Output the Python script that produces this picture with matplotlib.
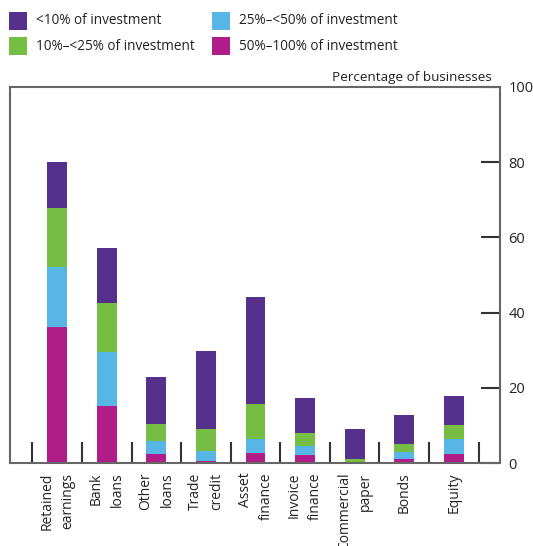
import numpy as np
import matplotlib.pyplot as plt
from matplotlib.patches import Rectangle

plt.rcParams['font.family'] = ['Open Sans', 'DejaVu Sans']

categories = ["Retained\nearnings", "Bank\nloans", "Other\nloans", "Trade\ncredit",
              "Asset\nfinance", "Invoice\nfinance", "Commercial\npaper", "Bonds", "Equity"]

# share of businesses, by share of investment financed from each source
pct_50_100 = [36.2, 15.2, 2.4, 0.5, 2.7, 2.1, 0.0, 1.1, 2.4]
pct_25_50 = [15.8, 14.4, 3.5, 2.7, 3.7, 2.5, 0.2, 1.9, 4.0]
pct_10_25 = [15.8, 13.0, 4.5, 5.8, 9.3, 3.4, 0.9, 2.1, 3.7]
pct_lt_10 = [12.2, 14.6, 12.5, 20.8, 28.4, 9.3, 7.9, 7.7, 7.7]

series = [
    ("50%\u2013100% of investment", pct_50_100, "#B01C88"),
    ("25%\u2013<50% of investment", pct_25_50, "#57B6E6"),
    ("10%\u2013<25% of investment", pct_10_25, "#76BE43"),
    ("<10% of investment", pct_lt_10, "#55308D"),
]

W, H = 533, 546
fig = plt.figure(figsize=(W / 100, H / 100), dpi=100)
ax = fig.add_axes([0.019, 0.152, 0.919, 0.689])

x = np.arange(len(categories))
bottom = np.zeros(len(categories))
for name, vals, col in series:
    ax.bar(x, vals, width=0.4, bottom=bottom, color=col, linewidth=0)
    bottom += np.array(vals)

ax.set_xlim(-0.95, 8.93)
ax.set_ylim(0, 100)

# category labels, no tick marks
ax.set_xticks(x)
ax.set_xticklabels(categories, rotation=90, ha="center", va="top",
                   multialignment="right", linespacing=1.55,
                   fontsize=10, color="#222222")
ax.tick_params(axis="x", which="major", length=0, pad=7)
# separators between categories
ax.set_xticks(np.arange(-0.5, 9, 1), minor=True)
ax.tick_params(axis="x", which="minor", direction="in", length=15, width=1.5, color="#333333")

ax.yaxis.tick_right()
ax.set_yticks([0, 20, 40, 60, 80, 100])
ax.tick_params(axis="y", direction="in", length=14, width=1.5, color="#333333",
               labelsize=10.5, pad=6, labelcolor="#222222")

for s in ax.spines.values():
    s.set_color("#666666")
    s.set_linewidth(1.5)

fig.text(492 / W, 1 - 81 / H, "Percentage of businesses", ha="right", va="baseline",
         fontsize=9.7, color="#222222")

# legend: two columns, squares drawn in figure pixels
legend_items = list(reversed(series))
slots = [(9, 12), (9, 37), (212, 12), (212, 37)]
for (name, vals, col), (px, py) in zip(legend_items, slots):
    fig.patches.append(Rectangle((px / W, 1 - (py + 18) / H), 18 / W, 18 / H,
                                 transform=fig.transFigure, color=col, linewidth=0))
    fig.text((px + 27) / W, 1 - (py + 9) / H, name, ha="left", va="center",
             fontsize=9.8, color="#222222")

fig.savefig("out.png", dpi=100)
